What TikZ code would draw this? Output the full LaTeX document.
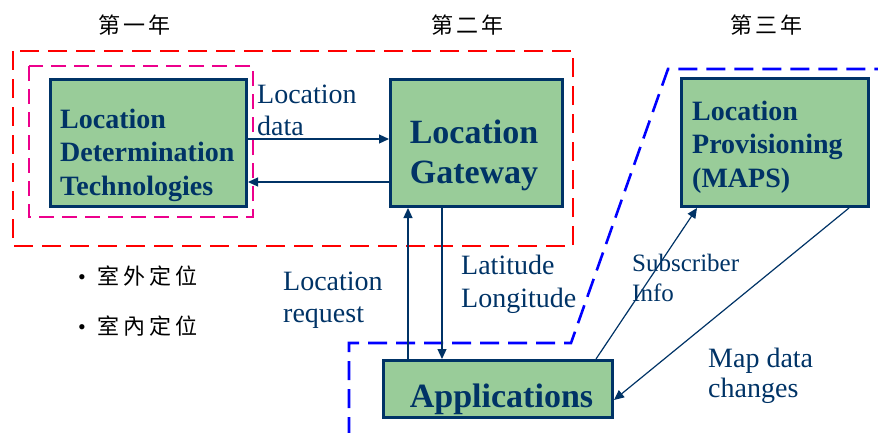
\documentclass[tikz,border=0pt]{standalone}
\usepackage{fontspec}
\setmainfont{Liberation Serif}
\newfontfamily\cjk{Noto Sans CJK TC}
\usetikzlibrary{arrows.meta}
\definecolor{navy}{HTML}{003366}
\definecolor{boxgreen}{HTML}{99CC99}
\tikzset{
  boxstyle/.style={draw=navy, fill=boxgreen, line width=3pt, inner sep=0pt},
  boxtext/.style={text=navy, font=\bfseries\fontsize{28}{33.5}\selectfont,
    align=left, inner sep=0pt, anchor=base west},
  bigtext/.style={text=navy, font=\bfseries\fontsize{34}{40}\selectfont,
    align=center, inner sep=0pt, anchor=base},
  lbl/.style={text=navy, font=\fontsize{28}{32}\selectfont,
    align=left, inner sep=0pt, anchor=base west},
  cjktext/.style={font=\cjk\fontsize{22}{26}\selectfont, inner sep=0pt},
  arr/.style={draw=navy, line width=1.2pt, -{Triangle[length=10pt,width=9pt]}},
  zone/.style={line width=2.6pt, dash pattern=on 19pt off 9pt},
}
\begin{document}
\begin{tikzpicture}[x=1pt, y=-1pt]
\useasboundingbox (0,0) rectangle (878,432);

% year groupings
\draw[zone, red] (13,51) rectangle (573,246);
\draw[zone, magenta, dash pattern=on 15pt off 8pt] (29,66) rectangle (253,217);
\draw[zone, blue] (349,436) -- (349,343) -- (571,343) -- (668,69) -- (880,69);

% year titles
\node[cjktext] (y1) at (134.5,25) {第\kern3pt 一\kern3pt 年};
\node[cjktext] (y2) at (467.5,25) {第\kern3pt 二\kern3pt 年};
\node[cjktext] (y3) at (766.5,25) {第\kern3pt 三\kern3pt 年};

% components
\node[boxstyle, minimum width=196pt, minimum height=127pt] (ldt) at (148.5,143) {};
\node[boxstyle, minimum width=172pt, minimum height=127pt] (lg) at (476.5,143) {};
\node[boxstyle, minimum width=187pt, minimum height=128pt] (maps) at (775,142.5) {};
\node[boxstyle, minimum width=229pt, minimum height=57pt] (apps) at (498,389) {};

% multi-line texts are placed by the baseline of their last line
\node[boxtext] (ldtt) at (60,195) {Location\\Determination\\Technologies};
\node[bigtext] (lgt) at (474,183) {Location\\Gateway};
\node[boxtext] (mapst) at (692,187) {Location\\Provisioning\\(MAPS)};
\node[bigtext] (appst) at (501.5,407) {Applications};

% connectors
\draw[arr] (ldt.east |- {(0,139)}) -- (lg.west |- {(0,139)});
\draw[arr] (lg.west |- {(0,182)}) -- (ldt.east |- {(0,182)});
\draw[arr] (apps.north -| {(408,0)}) -- (lg.south -| {(408,0)});
\draw[arr] (lg.south -| {(442,0)}) -- (apps.north -| {(442,0)});
\draw[arr] (apps.north -| {(596,0)}) -- (maps.south -| {(697,0)});
\draw[arr] (maps.south -| {(849,0)}) -- (apps.east |- {(0,400)});

% connector labels
\node[lbl] (ld) at (257,135) {Location\\data};
\node[lbl] (lr) at (283,322) {Location\\request};
\node[lbl, font=\fontsize{28}{33}\selectfont] (ll) at (461,307) {Latitude\\Longitude};
\node[lbl, font=\fontsize{25}{30}\selectfont] (si) at (632,301) {Subscriber\\Info};
\node[lbl, font=\fontsize{28}{30}\selectfont] (md) at (708,397) {Map data\\changes};

% positioning kinds
\node[cjktext, anchor=west] (out) at (78,276) {\fontspec{Liberation Serif}\textbullet\hspace{12pt}\cjk 室\kern4pt 外\kern4pt 定\kern4pt 位};
\node[cjktext, anchor=west] (in) at (78,326) {\fontspec{Liberation Serif}\textbullet\hspace{12pt}\cjk 室\kern4pt 內\kern4pt 定\kern4pt 位};
\end{tikzpicture}
\end{document}
